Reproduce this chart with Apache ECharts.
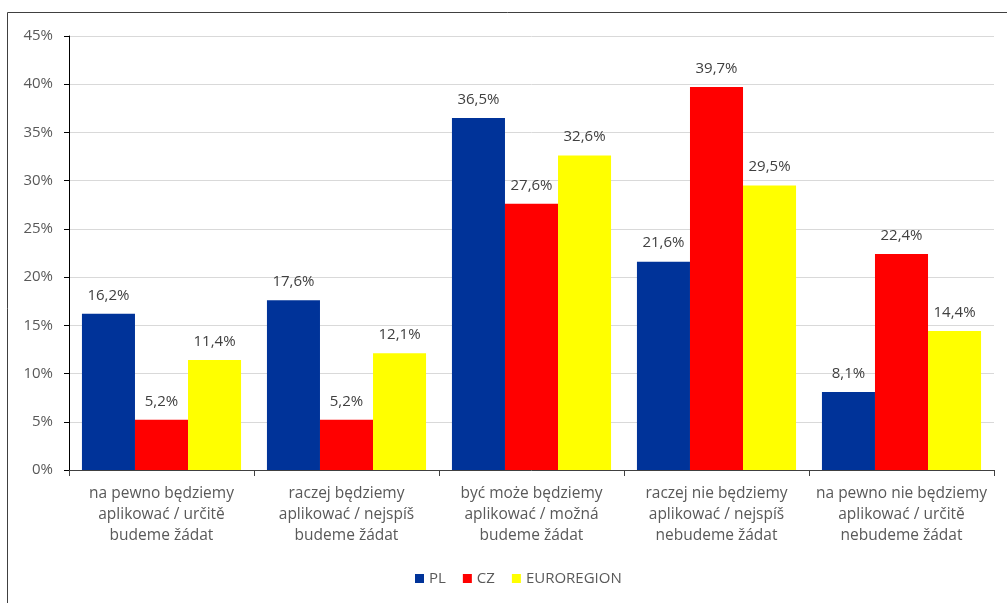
<!DOCTYPE html>
<html><head><meta charset="utf-8">
<script src="https://cdn.jsdelivr.net/npm/echarts@6/dist/echarts.min.js"></script>
<style>html,body{margin:0;padding:0;background:#fff}#c{width:1007px;height:603px}</style>
</head><body><div id="c"></div>
<script>
const categories = [
  "na pewno będziemy\naplikować / určitě\nbudeme žádat",
  "raczej będziemy\naplikować / nejspíš\nbudeme žádat",
  "być może będziemy\naplikować / možná\nbudeme žádat",
  "raczej nie będziemy\naplikować / nejspíš\nnebudeme žádat",
  "na pewno nie będziemy\naplikować / určitě\nnebudeme žádat"
];
const seriesNames = ["PL", "CZ", "EUROREGION"];
const plValues = [16.2, 17.6, 36.5, 21.6, 8.1];
const czValues = [5.2, 5.2, 27.6, 39.7, 22.4];
const euValues = [11.4, 12.1, 32.6, 29.5, 14.4];
const colors = ["#003399", "#FF0000", "#FFFF00"];

const font = "'Open Sans', sans-serif";
const chart = echarts.init(document.getElementById('c'), null, {renderer: 'canvas'});
const fmt = v => v.toFixed(1).replace('.', ',') + '%';
const mk = (name, data, color) => ({
  name, type: 'bar', data, barGap: '0%', barCategoryGap: '14%',
  itemStyle: {color},
  label: {show: true, position: 'top', distance: 11, color: '#404040', fontSize: 15, fontFamily: font,
    formatter: p => fmt(p.value)}
});
chart.setOption({
  animation: false,
  textStyle: {fontFamily: font},
  graphic: [{type: 'rect', shape: {x: 7.5, y: 12.5, width: 1010, height: 600},
    style: {fill: null, stroke: '#404040', lineWidth: 1}, silent: true}],
  grid: {left: 69, right: 13, top: 36, bottom: 133},
  legend: {bottom: 12, left: 410, itemWidth: 9, itemHeight: 9, itemGap: 17, icon: 'rect',
    textStyle: {color: '#595959', fontSize: 15, fontFamily: font}, data: seriesNames},
  xAxis: {type: 'category', data: categories,
    axisLine: {lineStyle: {color: '#404040', width: 1}},
    axisTick: {show: true, length: 6, lineStyle: {color: '#404040'}},
    axisLabel: {color: '#595959', fontSize: 15.5, lineHeight: 21, margin: 13, interval: 0, fontFamily: font}},
  yAxis: {type: 'value', min: 0, max: 45, interval: 5,
    axisLine: {show: true, lineStyle: {color: '#000'}},
    axisTick: {show: true, length: 5, lineStyle: {color: '#000'}},
    splitLine: {lineStyle: {color: '#d9d9d9'}},
    axisLabel: {color: '#595959', fontSize: 15, margin: 16, formatter: v => v + '%', fontFamily: font}},
  series: [mk(seriesNames[0], plValues, colors[0]), mk(seriesNames[1], czValues, colors[1]), mk(seriesNames[2], euValues, colors[2])]
});
</script></body></html>
